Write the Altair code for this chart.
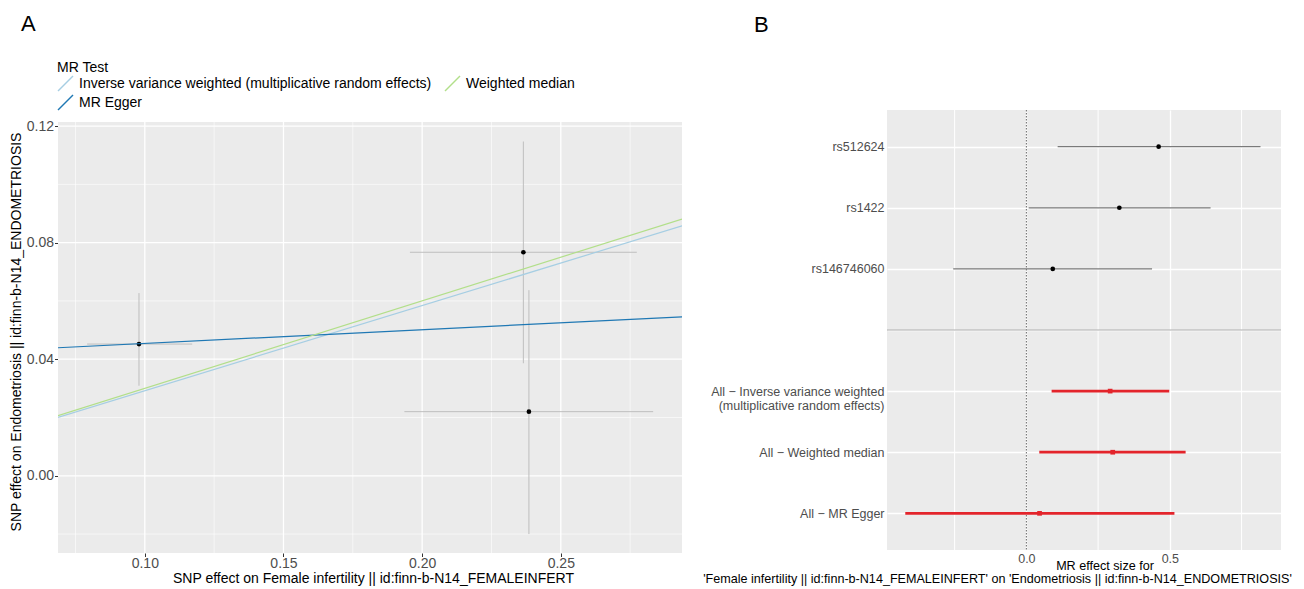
import altair as alt
import pandas as pd

FONT = "Liberation Sans"

# ---------------- Panel A : SNP scatter ----------------
snp = ["rs512624", "rs1422", "rs146746060"]
beta_exp = [0.0979, 0.2365, 0.2385]
beta_exp_lo = [0.0792, 0.1956, 0.1936]
beta_exp_hi = [0.1171, 0.2774, 0.2833]
beta_out = [0.0452, 0.0767, 0.0220]
beta_out_lo = [0.0309, 0.0386, -0.0200]
beta_out_hi = [0.0627, 0.1147, 0.0637]

methods = ["Inverse variance weighted (multiplicative random effects)",
           "MR Egger", "Weighted median"]
method_intercept = [0.0, 0.0407, 0.0]
method_slope = [0.292, 0.0471, 0.300]
method_colors = ["#a6cee3", "#1f78b4", "#b2df8a"]

x_domain_a = [0.0687, 0.2937]          # panel x limits
y_panel_a = [-0.0265, 0.1214]          # panel y limits (grey area)
y_scale_top_a = 0.12552                # scale top (white band above the panel)
x_major_a = [0.10, 0.15, 0.20, 0.25]
x_minor_a = [0.075, 0.125, 0.175, 0.225, 0.275]
y_major_a = [0.00, 0.04, 0.08, 0.12]
y_minor_a = [-0.02, 0.02, 0.06, 0.10]

# ---------------- Panel B : forest ----------------
forest_rows = ["rs512624", "rs1422", "rs146746060", " ",
               "All \u2212 Inverse variance weighted|(multiplicative random effects)",
               "All \u2212 Weighted median", "All \u2212 MR Egger"]
snp_b = [0.461, 0.324, 0.092]
snp_lo = [0.109, 0.008, -0.255]
snp_hi = [0.816, 0.642, 0.438]
mr_b = [0.292, 0.301, 0.046]
mr_lo = [0.088, 0.045, -0.422]
mr_hi = [0.498, 0.555, 0.516]
x_domain_b = [-0.4857, 0.8874]
x_major_b = [0.0, 0.5]
x_minor_b = [-0.25, 0.25, 0.75]

GRID = "white"
LABEL = "#4D4D4D"
PANEL = "#EBEBEB"
FS_A = 14
FS_B = 12.5

# ---------- build A ----------
pts = pd.DataFrame({"snp": snp, "bx": beta_exp, "bx_lo": beta_exp_lo, "bx_hi": beta_exp_hi,
                    "by": beta_out, "by_lo": beta_out_lo, "by_hi": beta_out_hi})
line_rows = []
for m, a, s in zip(methods, method_intercept, method_slope):
    for xv in x_domain_a:
        line_rows.append({"method": m, "x": xv, "y": a + s * xv})
lines = pd.DataFrame(line_rows)
bg_a = pd.DataFrame({"x0": [x_domain_a[0]], "x1": [x_domain_a[1]],
                     "y0": [y_panel_a[0]], "y1": [y_panel_a[1]]})

xs_a = alt.Scale(domain=x_domain_a, nice=False, zero=False)
ys_a = alt.Scale(domain=[y_panel_a[0], y_scale_top_a], nice=False, zero=False)
xax_a = alt.Axis(values=x_major_a, format=".2f",
                 title="SNP effect on Female infertility || id:finn-b-N14_FEMALEINFERT",
                 grid=False, domain=False,
                 tickColor="#333333", tickSize=3.5, labelColor=LABEL, labelFontSize=FS_A,
                 labelPadding=0, titleFontSize=FS_A, titleFontWeight="normal",
                 titleColor="black", titleX=315, titleY=29, titleAlign="center",
                 titleBaseline="alphabetic", titleAngle=0)
yax_a = alt.Axis(values=y_major_a, format=".2f",
                 title="SNP effect on Endometriosis || id:finn-b-N14_ENDOMETRIOSIS",
                 grid=False, domain=False,
                 tickColor="#333333", tickSize=3.5, labelColor=LABEL, labelFontSize=FS_A,
                 labelPadding=1, titleFontSize=FS_A, titleFontWeight="normal",
                 titleColor="black", titlePadding=3)

bg_layer = alt.Chart(bg_a).mark_rect(color=PANEL).encode(
    x=alt.X("x0:Q", scale=xs_a, axis=xax_a), x2="x1:Q",
    y=alt.Y("y0:Q", scale=ys_a, axis=yax_a), y2="y1:Q")
minor_xa = alt.Chart(pd.DataFrame({"v": x_minor_a})).mark_rule(color=GRID, strokeWidth=0.6).encode(
    x=alt.X("v:Q", scale=xs_a, axis=xax_a))
minor_ya = alt.Chart(pd.DataFrame({"v": y_minor_a})).mark_rule(color=GRID, strokeWidth=0.6).encode(
    y=alt.Y("v:Q", scale=ys_a, axis=yax_a))
major_xa = alt.Chart(pd.DataFrame({"v": x_major_a})).mark_rule(color=GRID, strokeWidth=1.3).encode(
    x=alt.X("v:Q", scale=xs_a, axis=xax_a))
major_ya = alt.Chart(pd.DataFrame({"v": y_major_a})).mark_rule(color=GRID, strokeWidth=1.3).encode(
    y=alt.Y("v:Q", scale=ys_a, axis=yax_a))
xerr = alt.Chart(pts).mark_rule(color="#BEBEBE", strokeWidth=1).encode(
    x=alt.X("bx_lo:Q", scale=xs_a, axis=xax_a), x2="bx_hi:Q",
    y=alt.Y("by:Q", scale=ys_a, axis=yax_a))
yerr = alt.Chart(pts).mark_rule(color="#BEBEBE", strokeWidth=1).encode(
    x=alt.X("bx:Q", scale=xs_a, axis=xax_a),
    y=alt.Y("by_lo:Q", scale=ys_a, axis=yax_a), y2="by_hi:Q")
dots = alt.Chart(pts).mark_circle(color="black", size=22, opacity=1).encode(
    x=alt.X("bx:Q", scale=xs_a, axis=xax_a),
    y=alt.Y("by:Q", scale=ys_a, axis=yax_a))
ablines = alt.Chart(lines).mark_line(strokeWidth=1.2, clip=True).encode(
    x=alt.X("x:Q", scale=xs_a, axis=xax_a),
    y=alt.Y("y:Q", scale=ys_a, axis=yax_a),
    color=alt.Color("method:N", scale=alt.Scale(domain=methods, range=method_colors),
                    legend=alt.Legend(title="MR Test", orient="none", legendX=-1, legendY=-49,
                                      direction="vertical", columns=2, columnPadding=10,
                                      rowPadding=-10.5, symbolType="M-1,1L1,-1", symbolSize=225,
                                      symbolStrokeWidth=1.5, labelOffset=5,
                                      labelLimit=600, labelFontSize=FS_A, labelColor="black",
                                      titleFontSize=FS_A, titleFontWeight="normal",
                                      titleColor="black", titlePadding=0)))

panel_a = alt.layer(bg_layer, minor_xa, minor_ya, major_xa, major_ya,
                    xerr, yerr, dots, ablines).properties(
    width=624, height=443,
    title=alt.TitleParams("A", anchor="start", frame="group", dx=-37, fontSize=22,
                          fontWeight="normal", color="black", offset=73))

# ---------- build B ----------
snp_df = pd.DataFrame({"row": forest_rows[:3], "b": snp_b, "lo": snp_lo, "hi": snp_hi})
mr_df = pd.DataFrame({"row": forest_rows[4:], "b": mr_b, "lo": mr_lo, "hi": mr_hi})
sep_df = pd.DataFrame({"row": [forest_rows[3]]})

xs_b = alt.Scale(domain=x_domain_b, nice=False, zero=False)
ys_b = alt.Scale(type="point", domain=forest_rows, padding=0.6)
xax_b = alt.Axis(values=x_major_b, format=".1f",
                 title="'Female infertility || id:finn-b-N14_FEMALEINFERT' on 'Endometriosis || id:finn-b-N14_ENDOMETRIOSIS'",
                 grid=True, gridColor=GRID, gridWidth=1.3, domain=False, ticks=False,
                 labelColor=LABEL, labelFontSize=FS_B, labelPadding=2,
                 titleFontSize=12.6, titleFontWeight="normal", titleColor="black",
                 titleX=110, titleY=32, titleAlign="center", titleBaseline="alphabetic",
                 titleAngle=0)
yax_b = alt.Axis(title=None, labelExpr="split(datum.label, '|')", ticks=False, domain=False,
                 grid=True, gridColor=GRID, gridWidth=1.3, labelColor=LABEL,
                 labelFontSize=FS_B, labelPadding=3, labelLimit=500, labelLineHeight=14)

minor_xb = alt.Chart(pd.DataFrame({"v": x_minor_b})).mark_rule(color=GRID, strokeWidth=1.0).encode(
    x=alt.X("v:Q", scale=xs_b, axis=xax_b))
zero_b = alt.Chart(pd.DataFrame({"v": [0.0]})).mark_rule(
    color="#666666", strokeWidth=1, strokeDash=[1.5, 1.5]).encode(
    x=alt.X("v:Q", scale=xs_b, axis=xax_b))
sep_b = alt.Chart(sep_df).mark_rule(color="#ABABAB", strokeWidth=1).encode(
    y=alt.Y("row:N", scale=ys_b, axis=yax_b))
snp_rules = alt.Chart(snp_df).mark_rule(color="#7A7A7A", strokeWidth=1.3).encode(
    x=alt.X("lo:Q", scale=xs_b, axis=xax_b), x2="hi:Q",
    y=alt.Y("row:N", scale=ys_b, axis=yax_b))
snp_pts = alt.Chart(snp_df).mark_circle(color="black", size=22, opacity=1).encode(
    x=alt.X("b:Q", scale=xs_b, axis=xax_b),
    y=alt.Y("row:N", scale=ys_b, axis=yax_b))
mr_rules = alt.Chart(mr_df).mark_rule(color="#E3242B", strokeWidth=2.8).encode(
    x=alt.X("lo:Q", scale=xs_b, axis=xax_b), x2="hi:Q",
    y=alt.Y("row:N", scale=ys_b, axis=yax_b))
mr_pts = alt.Chart(mr_df).mark_square(color="#E3242B", size=22, opacity=1).encode(
    x=alt.X("b:Q", scale=xs_b, axis=xax_b),
    y=alt.Y("row:N", scale=ys_b, axis=yax_b))
xtitle1 = alt.Chart(pd.DataFrame({"t": ["MR effect size for"]})).mark_text(
    align="center", baseline="alphabetic", fontSize=12.6, color="black").encode(
    x=alt.value(218), y=alt.value(459.5), text="t:N")

panel_b = alt.layer(minor_xb, zero_b, sep_b, snp_rules, snp_pts, mr_rules, mr_pts, xtitle1).properties(
    width=394, height=440,
    view=alt.ViewBackground(fill=PANEL, stroke=None),
    title=alt.TitleParams("B", anchor="start", frame="group", dx=-133, fontSize=22,
                          fontWeight="normal", color="black", offset=73))

chart = alt.hconcat(panel_a, panel_b, spacing=19).properties(
    padding={"left": 1, "top": 5, "right": 0, "bottom": 3}
).configure(font=FONT).configure_view(stroke=None)

chart.save("out.html", embed_options={"renderer": "svg", "actions": False})
